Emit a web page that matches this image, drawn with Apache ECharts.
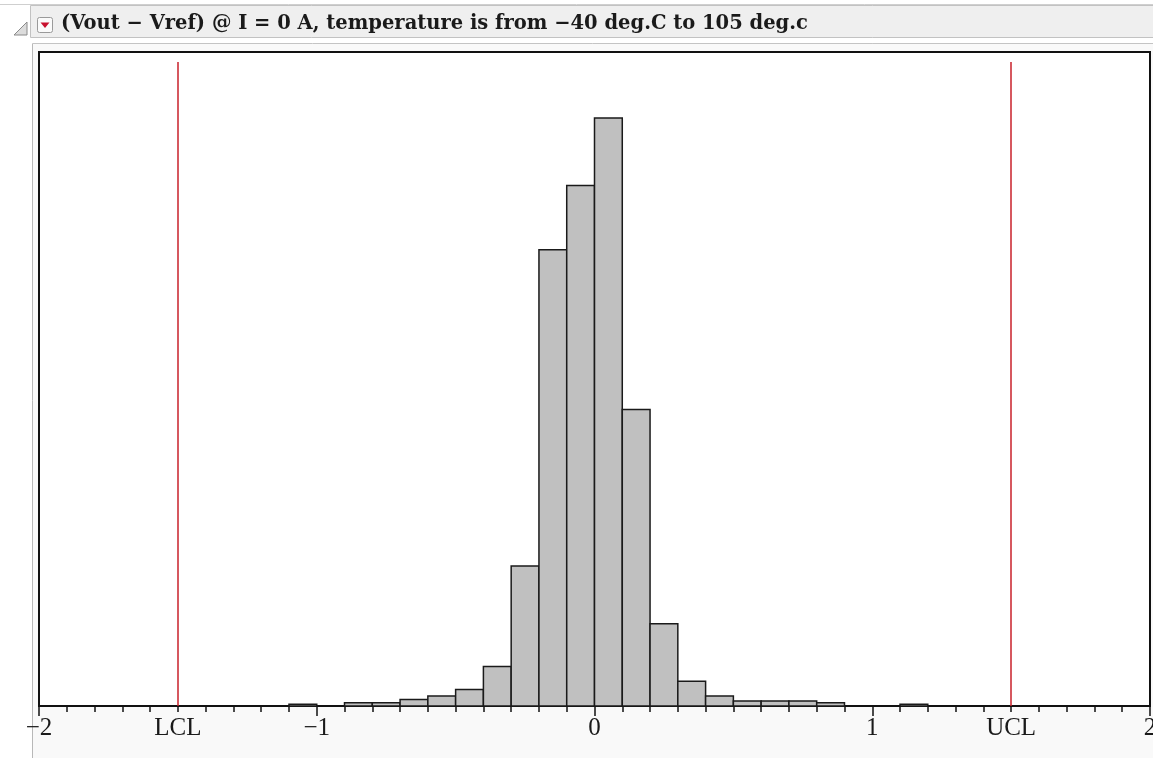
<!DOCTYPE html>
<html>
<head>
<meta charset="utf-8">
<style>
  html, body { margin: 0; padding: 0; background: #ffffff; overflow: hidden; }
  #chart { width: 1153px; height: 758px; }
</style>
<script src="https://cdn.jsdelivr.net/npm/echarts@6/dist/echarts.min.js"></script>
</head>
<body>
<div id="chart"></div>
<script>
// ---- data ----
const titleText = '(Vout \u2212 Vref) @ I = 0 A, temperature is from \u221240 deg.C to 105 deg.c';
const binLeft  = [-1.1, -0.9, -0.8, -0.7, -0.6, -0.5, -0.4, -0.3, -0.2, -0.1, 0.0, 0.1, 0.2, 0.3, 0.4, 0.5, 0.6, 0.7, 0.8, 1.1];
const counts   = [1, 2, 2, 4, 6, 10, 24, 85, 277, 316, 357, 180, 50, 15, 6, 3, 3, 3, 2, 1];
const binWidth = 0.1;
const majorTickValues = [-2, -1, 0, 1, 2];
const limitNames  = ['LCL', 'UCL'];
const limitValues = [-1.5, 1.5];
const limitLineTop = 391;
const yMax = 397;

const histData = binLeft.map((l, i) => [l, +(l + binWidth).toFixed(2), counts[i]]);

const chart = echarts.init(document.getElementById('chart'), null, { renderer: 'canvas' });

function fmtNum(v) {
  const r = Math.round(v * 100) / 100;
  if (majorTickValues.indexOf(r) < 0) return '';
  return r < 0 ? '\u2212' + Math.abs(r) : String(r);
}
function fmtLimit(v) {
  const r = Math.round(v * 100) / 100;
  const i = limitValues.indexOf(r);
  return i >= 0 ? limitNames[i] : '';
}

const option = {
  backgroundColor: '#ffffff',
  animation: false,
  graphic: [
    { type: 'rect', z: -100, silent: true, shape: { x: 33, y: 44, width: 1120, height: 714 }, style: { fill: '#f9f9f9' } },
    { type: 'line', z: -90, silent: true, shape: { x1: 32.5, y1: 43.5, x2: 32.5, y2: 758 }, style: { stroke: '#b8b8b8', lineWidth: 1 } },
    { type: 'line', z: -90, silent: true, shape: { x1: 32.5, y1: 43.5, x2: 1153, y2: 43.5 }, style: { stroke: '#c4c4c4', lineWidth: 1 } },
    { type: 'line', z: -90, silent: true, shape: { x1: 0, y1: 4.5, x2: 1153, y2: 4.5 }, style: { stroke: '#cfcfcf', lineWidth: 1 } },
    { type: 'rect', z: -80, silent: true, shape: { x: 30.5, y: 5.5, width: 1123, height: 32 }, style: { fill: '#efefef', stroke: '#c2c2c2', lineWidth: 1 } },
    { type: 'polygon', z: 10, silent: true, shape: { points: [[27, 22], [27, 35], [14, 35]] }, style: { fill: '#dcdcdc', stroke: '#8a8a8a', lineWidth: 1 } },
    { type: 'rect', z: 10, silent: true, shape: { x: 37.5, y: 17.5, width: 15, height: 15, r: 2 }, style: { fill: '#fafafa', stroke: '#9a9a9a', lineWidth: 1 } },
    { type: 'polygon', z: 11, silent: true, shape: { points: [[40.5, 22.5], [49.5, 22.5], [45, 28]] }, style: { fill: '#c8102e' } },
    { type: 'text', z: 10, silent: true, style: { x: 61, y: 23.5, text: titleText, fill: '#1a1a1a', font: 'bold 19.5px "DejaVu Serif", serif', verticalAlign: 'middle', align: 'left' } }
  ],
  grid: {
    left: 39, right: 3, top: 52, bottom: 52,
    containLabel: false, outerBoundsMode: 'none',
    show: true, backgroundColor: '#ffffff', borderColor: '#111111', borderWidth: 2
  },
  xAxis: [
    {
      type: 'value', min: -2, max: 2, interval: 1,
      axisLine: { show: true, onZero: false, lineStyle: { color: '#111111', width: 2 } },
      axisTick: { show: true, length: 10, lineStyle: { color: '#111111', width: 1.5 } },
      minorTick: { show: true, splitNumber: 10, length: 6, lineStyle: { color: '#111111', width: 1.5 } },
      splitLine: { show: false }, minorSplitLine: { show: false },
      axisLabel: { formatter: fmtNum, fontFamily: '"Liberation Serif", serif', fontSize: 25, color: '#1a1a1a', margin: 10, showMinLabel: true, showMaxLabel: true, hideOverlap: false }
    },
    {
      type: 'value', min: -2, max: 2, interval: 0.5, position: 'bottom',
      axisLine: { show: false }, axisTick: { show: false }, splitLine: { show: false },
      axisLabel: { formatter: fmtLimit, fontFamily: '"Liberation Serif", serif', fontSize: 25, color: '#1a1a1a', margin: 10, hideOverlap: false }
    }
  ],
  yAxis: {
    type: 'value', min: 0, max: yMax, show: false, splitLine: { show: false }
  },
  series: [
    {
      type: 'custom',
      xAxisIndex: 0,
      data: histData,
      encode: { x: [0, 1], y: 2 },
      renderItem: function (params, api) {
        const p0 = api.coord([api.value(0), 0]);
        const p1 = api.coord([api.value(1), api.value(2)]);
        return {
          type: 'rect',
          shape: { x: p0[0], y: p1[1], width: p1[0] - p0[0], height: p0[1] - p1[1] },
          style: { fill: '#c0c0c0', stroke: '#1a1a1a', lineWidth: 1.5 }
        };
      },
      markLine: {
        silent: true, symbol: 'none', animation: false,
        label: { show: false },
        lineStyle: { color: '#c8202a', width: 1.5, type: 'solid' },
        data: limitValues.map(v => [{ coord: [v, 0] }, { coord: [v, limitLineTop] }])
      }
    }
  ]
};
chart.setOption(option);
</script>
</body>
</html>
